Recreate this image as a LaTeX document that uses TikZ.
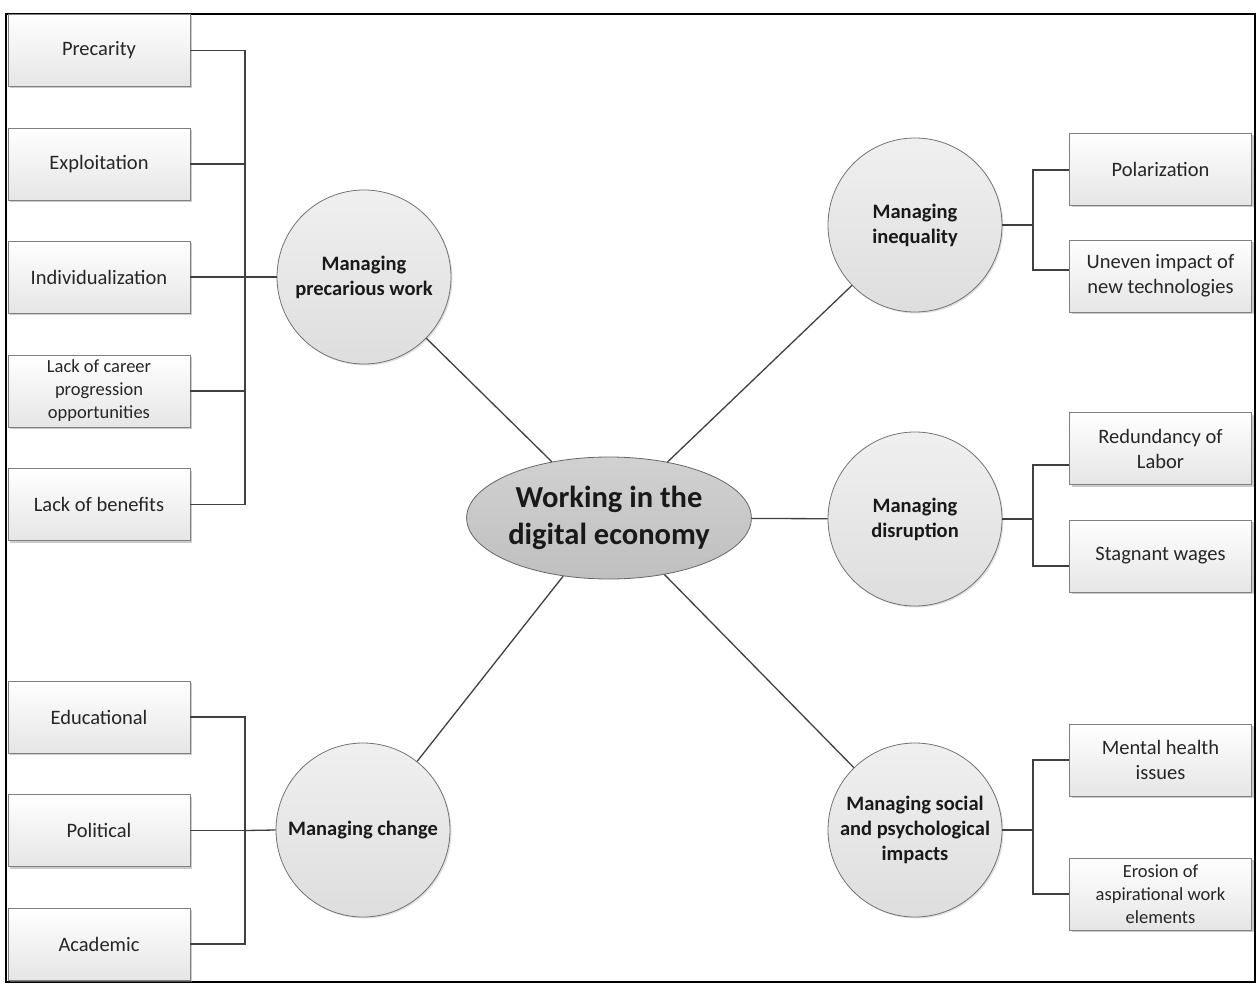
\documentclass[tikz,border=0pt]{standalone}
\usepackage{fontspec}
\setmainfont{Carlito}
\usetikzlibrary{shapes.geometric,shadows}
\tikzset{
 sub/.style={draw=black!50, line width=0.8pt, top color=white, bottom color=black!10,
   minimum width=182pt, minimum height=72pt, inner sep=2pt, align=center,
   font=\fontsize{20.5}{25}\selectfont, text=black!85,
   drop shadow={shadow xshift=2pt, shadow yshift=-2pt, fill=black!40, opacity=0.5}},
 small/.style={font=\fontsize{18.5}{23}\selectfont},
 topic/.style={circle, draw=black!55, line width=0.8pt, top color=black!6, bottom color=black!13,
   minimum size=174pt, inner sep=0pt, align=center, text=black!90,
   font=\bfseries\fontsize{20.5}{25}\selectfont,
   drop shadow={shadow xshift=1.5pt, shadow yshift=-1.5pt, fill=black!30, opacity=0.4}},
 hub/.style={ellipse, draw=black!60, line width=0.8pt, top color=black!18, bottom color=black!25,
   minimum width=274pt, minimum height=122pt, inner sep=0pt, align=center, text=black!90,
   font=\bfseries\fontsize{30.5}{37}\selectfont},
 link/.style={draw=black!75, line width=1.3pt},
}
\begin{document}
\begin{tikzpicture}[x=1pt,y=-1pt]
\useasboundingbox (0,0) rectangle (1257,984);
\fill[white] (0,0) rectangle (1257,984);
\draw[black, line width=2pt] (6,14) rectangle (1255,982);

% hub and topics
\node[hub] (hub) at (609,518) {Working in the\\digital economy};
\node[topic] (prec) at (364,277) {Managing\\precarious work};
\node[topic] (chg) at (363,830) {Managing change};
\node[topic] (ineq) at (915,225) {Managing\\inequality};
\node[topic] (dis) at (915,519) {Managing\\disruption};
\node[topic] (soc) at (915,830) {Managing social\\and psychological\\impacts};

% left boxes
\node[sub] (b1) at (99,50.5) {Precarity};
\node[sub] (b2) at (99,164) {Exploitation};
\node[sub] (b3) at (99,277) {Individualization};
\node[sub,small] (b4) at (99,391) {Lack of career\\progression\\opportunities};
\node[sub] (b5) at (99,504.5) {Lack of benefits};
\node[sub] (c1) at (99,717) {Educational};
\node[sub] (c2) at (99,830.5) {Political};
\node[sub] (c3) at (99,944) {Academic};

% right boxes
\node[sub] (r1) at (1160.5,169) {Polarization};
\node[sub] (r2) at (1160.5,276) {Uneven impact of\\new technologies};
\node[sub] (r3) at (1160.5,448.5) {Redundancy of\\Labor};
\node[sub] (r4) at (1160.5,556) {Stagnant wages};
\node[sub] (r5) at (1160.5,760) {Mental health\\issues};
\node[sub,small] (r6) at (1160.5,894) {Erosion of\\aspirational work\\elements};

% junctions
\coordinate (jp) at (245,277);
\coordinate (jc) at (245,830.5);
\coordinate (ji) at (1033,225);
\coordinate (jd) at (1033,519);
\coordinate (js) at (1033,830);

% hub links
\draw[link] (hub) -- (prec);
\draw[link] (hub) -- (chg);
\draw[link] (hub) -- (ineq);
\draw[link] (hub) -- (dis);
\draw[link] (hub) -- (soc);

% left trees
\foreach \b in {b1,b2,b3,b4,b5} \draw[link] (\b.east) -| (jp);
\draw[link] (jp) -- (prec.west);
\foreach \b in {c1,c2,c3} \draw[link] (\b.east) -| (jc);
\draw[link] (jc) -- (chg.west);

% right trees
\draw[link] (ineq.east) -- (ji);
\draw[link] (ji) |- ([yshift=-1pt]r1.west);
\draw[link] (ji) |- ([yshift=6pt]r2.west);
\draw[link] (dis.east) -- (jd);
\draw[link] (jd) |- ([yshift=-16.5pt]r3.west);
\draw[link] (jd) |- ([yshift=-10pt]r4.west);
\draw[link] (soc.east) -- (js);
\draw[link] (js) |- (r5.west);
\draw[link] (js) |- (r6.west);
\end{tikzpicture}
\end{document}
